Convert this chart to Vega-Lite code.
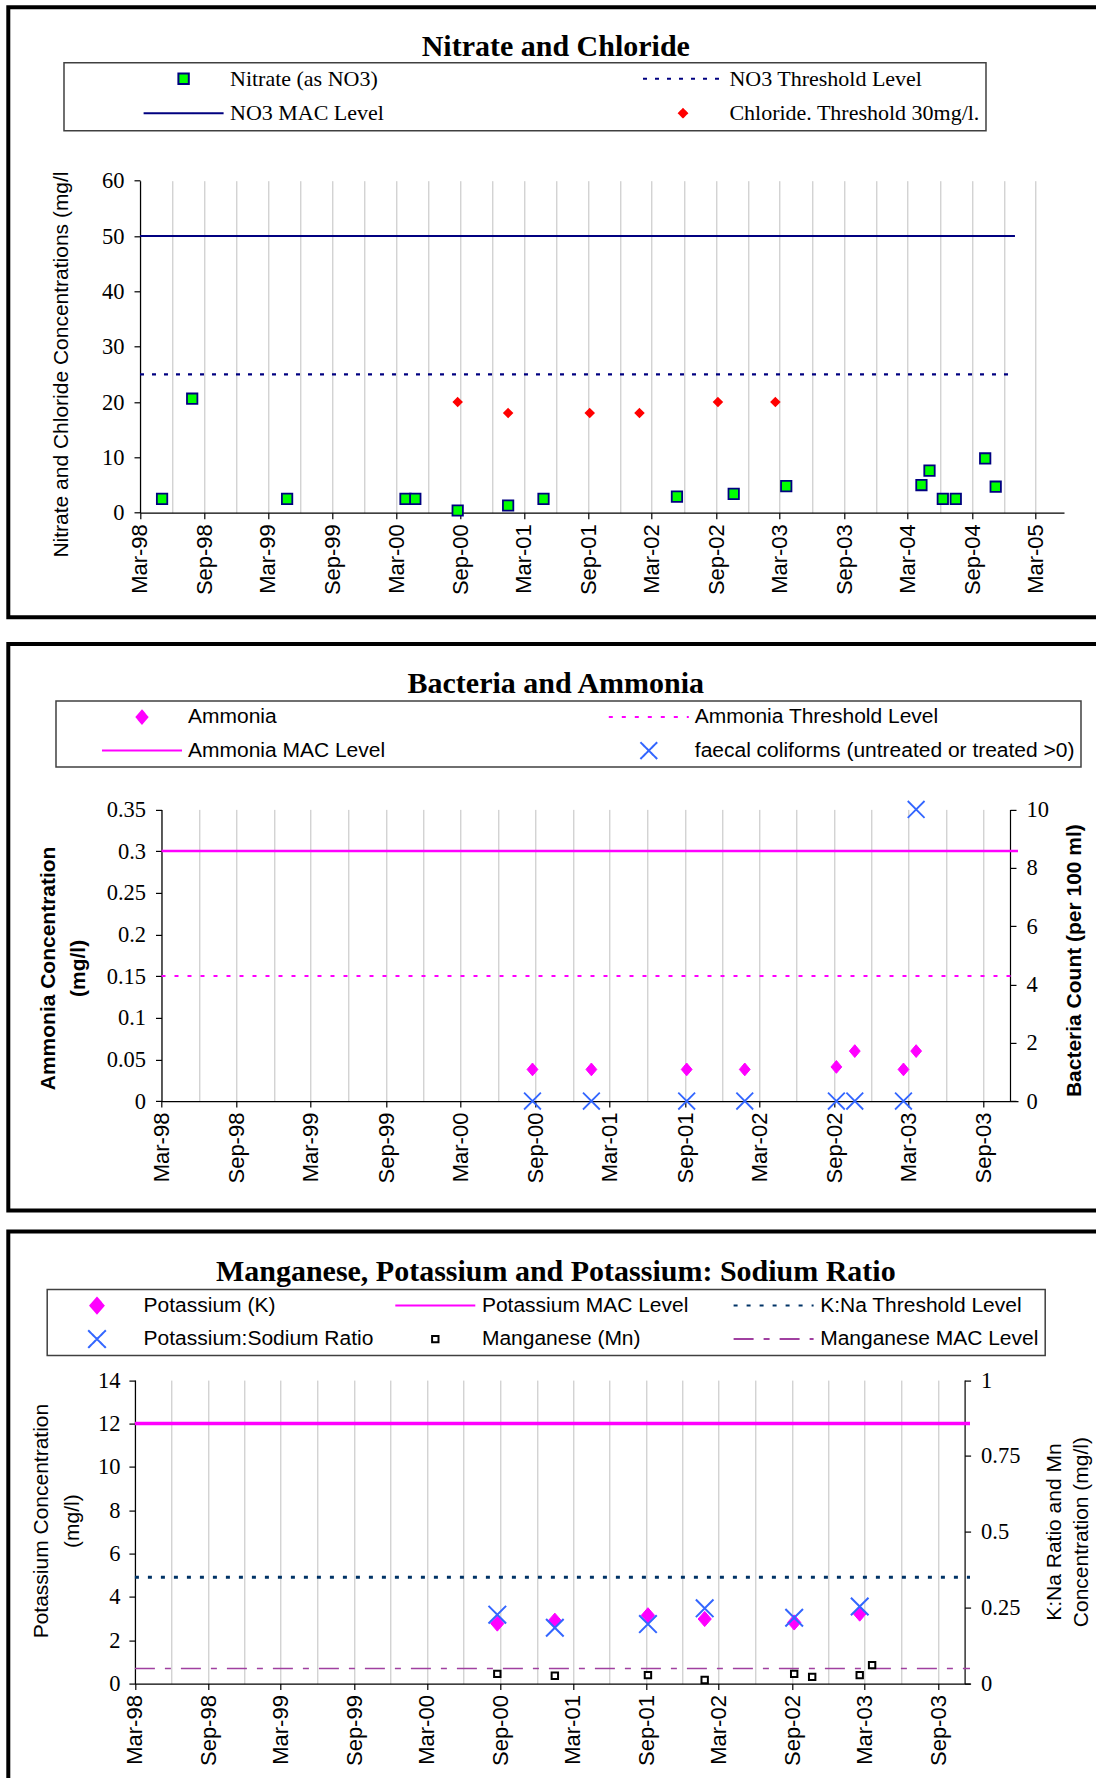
{
  "$schema": "https://vega.github.io/schema/vega-lite/v6.json",
  "background": "white",
  "padding": {"left": 6.3, "top": 5.3, "right": 0, "bottom": 0},
  "spacing": 22.6,
  "resolve": {"scale": {"stroke": "independent", "fill": "independent", "shape": "independent", "strokeDash": "independent"}},
  "datasets": {
    "p1pts": [
      {"series": "Nitrate (as NO3)", "date": "1998-05-03", "value": 2.5},
      {"series": "Nitrate (as NO3)", "date": "1998-07-28", "value": 20.6},
      {"series": "Nitrate (as NO3)", "date": "1999-04-25", "value": 2.5},
      {"series": "Nitrate (as NO3)", "date": "2000-03-28", "value": 2.5},
      {"series": "Nitrate (as NO3)", "date": "2000-04-25", "value": 2.5},
      {"series": "Nitrate (as NO3)", "date": "2000-08-24", "value": 0.4},
      {"series": "Nitrate (as NO3)", "date": "2001-01-15", "value": 1.3},
      {"series": "Nitrate (as NO3)", "date": "2001-04-26", "value": 2.5},
      {"series": "Nitrate (as NO3)", "date": "2002-05-12", "value": 2.9},
      {"series": "Nitrate (as NO3)", "date": "2002-10-21", "value": 3.4},
      {"series": "Nitrate (as NO3)", "date": "2003-03-20", "value": 4.8},
      {"series": "Nitrate (as NO3)", "date": "2004-04-09", "value": 5.0},
      {"series": "Nitrate (as NO3)", "date": "2004-05-02", "value": 7.6},
      {"series": "Nitrate (as NO3)", "date": "2004-06-09", "value": 2.5},
      {"series": "Nitrate (as NO3)", "date": "2004-07-16", "value": 2.5},
      {"series": "Nitrate (as NO3)", "date": "2004-10-08", "value": 9.8},
      {"series": "Nitrate (as NO3)", "date": "2004-11-07", "value": 4.7},
      {"series": "Chloride. Threshold 30mg/l.", "date": "2000-08-24", "value": 20},
      {"series": "Chloride. Threshold 30mg/l.", "date": "2001-01-15", "value": 18},
      {"series": "Chloride. Threshold 30mg/l.", "date": "2001-09-05", "value": 18},
      {"series": "Chloride. Threshold 30mg/l.", "date": "2002-01-25", "value": 18},
      {"series": "Chloride. Threshold 30mg/l.", "date": "2002-09-06", "value": 20},
      {"series": "Chloride. Threshold 30mg/l.", "date": "2003-02-17", "value": 20}
    ],
    "p1lines": [
      {"series": "NO3 MAC Level", "start": "1998-03-01", "end": "2005-01-01", "value": 50},
      {"series": "NO3 Threshold Level", "start": "1998-03-01", "end": "2005-01-01", "value": 25}
    ],
    "p2pts": [
      {"series": "Ammonia", "date": "2000-08-24", "value": 0.038},
      {"series": "Ammonia", "date": "2001-01-15", "value": 0.038},
      {"series": "Ammonia", "date": "2001-09-05", "value": 0.038},
      {"series": "Ammonia", "date": "2002-01-25", "value": 0.038},
      {"series": "Ammonia", "date": "2002-09-06", "value": 0.041},
      {"series": "Ammonia", "date": "2002-10-21", "value": 0.06},
      {"series": "Ammonia", "date": "2003-02-17", "value": 0.038},
      {"series": "Ammonia", "date": "2003-03-20", "value": 0.06},
      {"series": "faecal coliforms (untreated or treated >0)", "date": "2000-08-24", "value": 0},
      {"series": "faecal coliforms (untreated or treated >0)", "date": "2001-01-15", "value": 0},
      {"series": "faecal coliforms (untreated or treated >0)", "date": "2001-09-05", "value": 0},
      {"series": "faecal coliforms (untreated or treated >0)", "date": "2002-01-25", "value": 0},
      {"series": "faecal coliforms (untreated or treated >0)", "date": "2002-09-06", "value": 0},
      {"series": "faecal coliforms (untreated or treated >0)", "date": "2002-10-21", "value": 0},
      {"series": "faecal coliforms (untreated or treated >0)", "date": "2003-02-17", "value": 0},
      {"series": "faecal coliforms (untreated or treated >0)", "date": "2003-03-20", "value": 10}
    ],
    "p2lines": [
      {"series": "Ammonia MAC Level", "start": "1998-03-01", "end": "2003-11-24", "value": 0.3},
      {"series": "Ammonia Threshold Level", "start": "1998-03-01", "end": "2003-11-24", "value": 0.15}
    ],
    "p3pts": [
      {"series": "Potassium (K)", "date": "2000-08-24", "value": 2.77},
      {"series": "Potassium (K)", "date": "2001-01-15", "value": 2.9},
      {"series": "Potassium (K)", "date": "2001-09-05", "value": 3.15},
      {"series": "Potassium (K)", "date": "2002-01-25", "value": 2.98},
      {"series": "Potassium (K)", "date": "2002-09-06", "value": 2.82},
      {"series": "Potassium (K)", "date": "2003-02-17", "value": 3.23},
      {"series": "Potassium:Sodium Ratio", "date": "2000-08-24", "value": 0.227},
      {"series": "Potassium:Sodium Ratio", "date": "2001-01-15", "value": 0.184},
      {"series": "Potassium:Sodium Ratio", "date": "2001-09-05", "value": 0.196},
      {"series": "Potassium:Sodium Ratio", "date": "2002-01-25", "value": 0.248},
      {"series": "Potassium:Sodium Ratio", "date": "2002-09-06", "value": 0.217},
      {"series": "Potassium:Sodium Ratio", "date": "2003-02-17", "value": 0.254},
      {"series": "Manganese (Mn)", "date": "2000-08-24", "value": 0.032},
      {"series": "Manganese (Mn)", "date": "2001-01-15", "value": 0.026},
      {"series": "Manganese (Mn)", "date": "2001-09-05", "value": 0.028},
      {"series": "Manganese (Mn)", "date": "2002-01-25", "value": 0.012},
      {"series": "Manganese (Mn)", "date": "2002-09-06", "value": 0.032},
      {"series": "Manganese (Mn)", "date": "2002-10-21", "value": 0.022},
      {"series": "Manganese (Mn)", "date": "2003-02-17", "value": 0.028},
      {"series": "Manganese (Mn)", "date": "2003-03-20", "value": 0.061}
    ],
    "p3lines": [
      {"series": "Potassium MAC Level", "start": "1998-03-01", "end": "2003-11-20", "value": 12},
      {"series": "K:Na Threshold Level", "start": "1998-03-01", "end": "2003-11-20", "value": 0.35},
      {"series": "Manganese MAC Level", "start": "1998-03-01", "end": "2003-11-20", "value": 0.05}
    ]
  },
  "vconcat": [
    {
      "width": 1095,
      "height": 610,
      "title": {"text": "Nitrate and Chloride", "offset": -55},
      "layer": [
        {
          "data": {"name": "p1lines"},
          "transform": [{"filter": {"field": "series", "equal": "NO3 MAC Level"}}],
          "mark": {"type": "rule", "strokeWidth": 2},
          "encoding": {
            "x": {"field": "start", "type": "temporal",
              "scale": {"type": "utc", "domain": [{"year": 1998, "month": 3, "date": 1, "utc": true}, {"year": 2005, "month": 5, "date": 21, "utc": true}], "range": [131.7, 1055.7], "nice": false},
              "axis": {"orient": "top", "offset": 0, "grid": true, "domain": false, "ticks": false, "labels": false, "title": null,
                "values": [
                  {"year": 1998, "month": 3, "date": 1, "utc": true}, {"year": 1998, "month": 6, "date": 1, "utc": true}, {"year": 1998, "month": 9, "date": 1, "utc": true}, {"year": 1998, "month": 12, "date": 1, "utc": true},
                  {"year": 1999, "month": 3, "date": 1, "utc": true}, {"year": 1999, "month": 6, "date": 1, "utc": true}, {"year": 1999, "month": 9, "date": 1, "utc": true}, {"year": 1999, "month": 12, "date": 1, "utc": true},
                  {"year": 2000, "month": 3, "date": 1, "utc": true}, {"year": 2000, "month": 6, "date": 1, "utc": true}, {"year": 2000, "month": 9, "date": 1, "utc": true}, {"year": 2000, "month": 12, "date": 1, "utc": true},
                  {"year": 2001, "month": 3, "date": 1, "utc": true}, {"year": 2001, "month": 6, "date": 1, "utc": true}, {"year": 2001, "month": 9, "date": 1, "utc": true}, {"year": 2001, "month": 12, "date": 1, "utc": true},
                  {"year": 2002, "month": 3, "date": 1, "utc": true}, {"year": 2002, "month": 6, "date": 1, "utc": true}, {"year": 2002, "month": 9, "date": 1, "utc": true}, {"year": 2002, "month": 12, "date": 1, "utc": true},
                  {"year": 2003, "month": 3, "date": 1, "utc": true}, {"year": 2003, "month": 6, "date": 1, "utc": true}, {"year": 2003, "month": 9, "date": 1, "utc": true}, {"year": 2003, "month": 12, "date": 1, "utc": true},
                  {"year": 2004, "month": 3, "date": 1, "utc": true}, {"year": 2004, "month": 6, "date": 1, "utc": true}, {"year": 2004, "month": 9, "date": 1, "utc": true}, {"year": 2004, "month": 12, "date": 1, "utc": true},
                  {"year": 2005, "month": 3, "date": 1, "utc": true}
                ]}},
            "x2": {"field": "end"},
            "y": {"field": "value", "type": "quantitative",
              "scale": {"domain": [0, 60], "range": [505.4, 173.4], "nice": false, "zero": false},
              "axis": {"orient": "left", "offset": -131.7, "values": [0, 10, 20, 30, 40, 50, 60], "grid": false, "labelPadding": 10, "labelFont": "Liberation Serif", "labelFontSize": 22.5,
                "title": "Nitrate and Chloride Concentrations (mg/l", "titleAngle": 270, "titleX": -78.3, "titleY": 356.7, "titleAlign": "center", "titleBaseline": "middle"}},
            "stroke": {"field": "series", "type": "nominal",
              "scale": {"domain": ["Nitrate (as NO3)", "NO3 MAC Level", "NO3 Threshold Level", "Chloride. Threshold 30mg/l."], "range": ["#000080", "#000080", "#000080", "#ff0000"]},
              "legend": {"title": null, "legendX": 55.7, "legendY": 55.4, "columns": 2, "columnPadding": 185.4, "symbolOffset": 72.6, "labelOffset": 5.4, "labelFont": "Liberation Serif", "labelFontSize": 22}},
            "strokeDash": {"field": "series", "type": "nominal",
              "scale": {"domain": ["Nitrate (as NO3)", "NO3 MAC Level", "NO3 Threshold Level", "Chloride. Threshold 30mg/l."], "range": [[1, 0], [1, 0], [4, 8], [1, 0]]}}
          }
        },
        {
          "data": {"name": "p1lines"},
          "transform": [{"filter": {"field": "series", "equal": "NO3 Threshold Level"}}],
          "mark": {"type": "rule", "strokeWidth": 2.2},
          "encoding": {
            "x": {"field": "start", "type": "temporal", "axis": null},
            "x2": {"field": "end"},
            "y": {"field": "value", "type": "quantitative"},
            "stroke": {"field": "series", "type": "nominal",
              "scale": {"domain": ["Nitrate (as NO3)", "NO3 MAC Level", "NO3 Threshold Level", "Chloride. Threshold 30mg/l."], "range": ["#000080", "#000080", "#000080", "#ff0000"]}},
            "strokeDash": {"field": "series", "type": "nominal",
              "scale": {"domain": ["Nitrate (as NO3)", "NO3 MAC Level", "NO3 Threshold Level", "Chloride. Threshold 30mg/l."], "range": [[1, 0], [1, 0], [4, 8], [1, 0]]}}
          }
        },
        {
          "data": {"name": "p1pts"},
          "mark": {"type": "point", "filled": true, "opacity": 1, "size": 6400, "strokeWidth": 1.8},
          "encoding": {
            "x": {"field": "date", "type": "temporal",
              "axis": {"orient": "bottom", "offset": -104.6, "grid": false, "title": null, "format": "%b-%y", "labelAngle": 270, "labelFont": "Liberation Sans", "labelFontSize": 22, "labelPadding": 5,
                "values": [
                  {"year": 1998, "month": 3, "date": 1, "utc": true}, {"year": 1998, "month": 9, "date": 1, "utc": true},
                  {"year": 1999, "month": 3, "date": 1, "utc": true}, {"year": 1999, "month": 9, "date": 1, "utc": true},
                  {"year": 2000, "month": 3, "date": 1, "utc": true}, {"year": 2000, "month": 9, "date": 1, "utc": true},
                  {"year": 2001, "month": 3, "date": 1, "utc": true}, {"year": 2001, "month": 9, "date": 1, "utc": true},
                  {"year": 2002, "month": 3, "date": 1, "utc": true}, {"year": 2002, "month": 9, "date": 1, "utc": true},
                  {"year": 2003, "month": 3, "date": 1, "utc": true}, {"year": 2003, "month": 9, "date": 1, "utc": true},
                  {"year": 2004, "month": 3, "date": 1, "utc": true}, {"year": 2004, "month": 9, "date": 1, "utc": true},
                  {"year": 2005, "month": 3, "date": 1, "utc": true}
                ]}},
            "y": {"field": "value", "type": "quantitative"},
            "fill": {"field": "series", "type": "nominal",
              "scale": {"domain": ["Nitrate (as NO3)", "NO3 MAC Level", "NO3 Threshold Level", "Chloride. Threshold 30mg/l."], "range": ["#00ff00", "transparent", "transparent", "#ff0000"]}},
            "stroke": {"field": "series", "type": "nominal",
              "scale": {"domain": ["Nitrate (as NO3)", "NO3 MAC Level", "NO3 Threshold Level", "Chloride. Threshold 30mg/l."], "range": ["#000080", "#000080", "#000080", "#ff0000"]}},
            "shape": {"field": "series", "type": "nominal",
              "scale": {"domain": ["Nitrate (as NO3)", "NO3 MAC Level", "NO3 Threshold Level", "Chloride. Threshold 30mg/l."],
                "range": ["M-0.13,-0.13L0.13,-0.13L0.13,0.13L-0.13,0.13Z", "M-1,0L1,0", "M-1,0L1,0", "M0,-0.1L0.1,0L0,0.1L-0.1,0Z"]}}
          }
        }
      ],
      "resolve": {"axis": {"x": "independent"}}
    },
    {
      "spacing": 16.7,
      "resolve": {"scale": {"stroke": "independent", "fill": "independent", "shape": "independent", "strokeDash": "independent"}},
      "vconcat": [
        {
          "width": 1095,
          "height": 566.5,
          "title": {"text": "Bacteria and Ammonia", "offset": -55},
          "layer": [
            {
              "layer": [
                {
                  "data": {"name": "p2lines"},
                  "transform": [{"filter": {"field": "series", "equal": "Ammonia MAC Level"}}],
                  "mark": {"type": "rule", "strokeWidth": 2.5},
                  "encoding": {
                    "x": {"field": "start", "type": "temporal",
                      "scale": {"type": "utc", "domain": [{"year": 1998, "month": 3, "date": 1, "utc": true}, {"year": 2003, "month": 11, "date": 24, "utc": true}], "range": [153.2, 1009.7], "nice": false},
                      "axis": {"orient": "top", "offset": 0, "grid": true, "domain": false, "ticks": false, "labels": false, "title": null,
                        "values": [
                          {"year": 1998, "month": 3, "date": 1, "utc": true}, {"year": 1998, "month": 6, "date": 1, "utc": true}, {"year": 1998, "month": 9, "date": 1, "utc": true}, {"year": 1998, "month": 12, "date": 1, "utc": true},
                          {"year": 1999, "month": 3, "date": 1, "utc": true}, {"year": 1999, "month": 6, "date": 1, "utc": true}, {"year": 1999, "month": 9, "date": 1, "utc": true}, {"year": 1999, "month": 12, "date": 1, "utc": true},
                          {"year": 2000, "month": 3, "date": 1, "utc": true}, {"year": 2000, "month": 6, "date": 1, "utc": true}, {"year": 2000, "month": 9, "date": 1, "utc": true}, {"year": 2000, "month": 12, "date": 1, "utc": true},
                          {"year": 2001, "month": 3, "date": 1, "utc": true}, {"year": 2001, "month": 6, "date": 1, "utc": true}, {"year": 2001, "month": 9, "date": 1, "utc": true}, {"year": 2001, "month": 12, "date": 1, "utc": true},
                          {"year": 2002, "month": 3, "date": 1, "utc": true}, {"year": 2002, "month": 6, "date": 1, "utc": true}, {"year": 2002, "month": 9, "date": 1, "utc": true}, {"year": 2002, "month": 12, "date": 1, "utc": true},
                          {"year": 2003, "month": 3, "date": 1, "utc": true}, {"year": 2003, "month": 6, "date": 1, "utc": true}, {"year": 2003, "month": 9, "date": 1, "utc": true}
                        ]}},
                    "x2": {"field": "end"},
                    "y": {"field": "value", "type": "quantitative",
                      "scale": {"domain": [0, 0.35], "range": [457.2, 165.5], "nice": false, "zero": false},
                      "axis": {"orient": "left", "offset": -153.2, "values": [0, 0.05, 0.1, 0.15, 0.2, 0.25, 0.3, 0.35], "format": ".2~g", "grid": false, "labelPadding": 10, "labelFont": "Liberation Serif", "labelFontSize": 22.5,
                        "title": ["Ammonia Concentration", "(mg/l)"], "titleFontWeight": "bold", "titleLineHeight": 30, "titleAngle": 270, "titleX": -112.5, "titleY": 324, "titleAlign": "center", "titleBaseline": "middle"}},
                    "stroke": {"field": "series", "type": "nominal",
                      "scale": {"domain": ["Ammonia", "Ammonia MAC Level", "Ammonia Threshold Level", "faecal coliforms (untreated or treated >0)"], "range": ["#ff00ff", "#ff00ff", "#ff00ff", "#3366ff"]},
                      "legend": {"title": null, "legendX": 47.7, "legendY": 57.2, "columns": 2, "columnPadding": 182.8, "symbolOffset": 39, "labelOffset": 5, "labelFont": "Liberation Sans", "labelFontSize": 21}},
                    "strokeDash": {"field": "series", "type": "nominal",
                      "scale": {"domain": ["Ammonia", "Ammonia MAC Level", "Ammonia Threshold Level", "faecal coliforms (untreated or treated >0)"], "range": [[1, 0], [1, 0], [4, 9], [1, 0]]}}
                  }
                },
                {
                  "data": {"name": "p2lines"},
                  "transform": [{"filter": {"field": "series", "equal": "Ammonia Threshold Level"}}],
                  "mark": {"type": "rule", "strokeWidth": 2},
                  "encoding": {
                    "x": {"field": "start", "type": "temporal"},
                    "x2": {"field": "end"},
                    "y": {"field": "value", "type": "quantitative"},
                    "stroke": {"field": "series", "type": "nominal",
                      "scale": {"domain": ["Ammonia", "Ammonia MAC Level", "Ammonia Threshold Level", "faecal coliforms (untreated or treated >0)"], "range": ["#ff00ff", "#ff00ff", "#ff00ff", "#3366ff"]}},
                    "strokeDash": {"field": "series", "type": "nominal",
                      "scale": {"domain": ["Ammonia", "Ammonia MAC Level", "Ammonia Threshold Level", "faecal coliforms (untreated or treated >0)"], "range": [[1, 0], [1, 0], [4, 9], [1, 0]]}}
                  }
                },
                {
                  "data": {"name": "p2pts"},
                  "transform": [{"filter": {"field": "series", "equal": "Ammonia"}}],
                  "mark": {"type": "point", "filled": true, "opacity": 1, "size": 6400, "strokeWidth": 1},
                  "encoding": {
                    "x": {"field": "date", "type": "temporal"},
                    "y": {"field": "value", "type": "quantitative"},
                    "fill": {"field": "series", "type": "nominal",
                      "scale": {"domain": ["Ammonia", "Ammonia MAC Level", "Ammonia Threshold Level", "faecal coliforms (untreated or treated >0)"], "range": ["#ff00ff", "transparent", "transparent", "transparent"]}},
                    "stroke": {"field": "series", "type": "nominal",
                      "scale": {"domain": ["Ammonia", "Ammonia MAC Level", "Ammonia Threshold Level", "faecal coliforms (untreated or treated >0)"], "range": ["#ff00ff", "#ff00ff", "#ff00ff", "#3366ff"]}},
                    "shape": {"field": "series", "type": "nominal",
                      "scale": {"domain": ["Ammonia", "Ammonia MAC Level", "Ammonia Threshold Level", "faecal coliforms (untreated or treated >0)"],
                        "range": ["M0,-0.16L0.135,0L0,0.16L-0.135,0Z", "M-1,0L1,0", "M-1,0L1,0", "M-0.21,-0.21L0.21,0.21M-0.21,0.21L0.21,-0.21"]}}
                  }
                }
              ]
            },
            {
              "data": {"name": "p2pts"},
              "transform": [{"filter": {"field": "series", "equal": "faecal coliforms (untreated or treated >0)"}}],
              "mark": {"type": "point", "filled": true, "opacity": 1, "size": 6400, "strokeWidth": 1.8},
              "encoding": {
                "x": {"field": "date", "type": "temporal",
                  "scale": {"type": "utc", "domain": [{"year": 1998, "month": 3, "date": 1, "utc": true}, {"year": 2003, "month": 11, "date": 24, "utc": true}], "range": [153.2, 1009.7], "nice": false},
                  "axis": {"orient": "bottom", "offset": -109.3, "grid": false, "title": null, "format": "%b-%y", "labelAngle": 270, "labelFont": "Liberation Sans", "labelFontSize": 22, "labelPadding": 5,
                    "values": [
                      {"year": 1998, "month": 3, "date": 1, "utc": true}, {"year": 1998, "month": 9, "date": 1, "utc": true},
                      {"year": 1999, "month": 3, "date": 1, "utc": true}, {"year": 1999, "month": 9, "date": 1, "utc": true},
                      {"year": 2000, "month": 3, "date": 1, "utc": true}, {"year": 2000, "month": 9, "date": 1, "utc": true},
                      {"year": 2001, "month": 3, "date": 1, "utc": true}, {"year": 2001, "month": 9, "date": 1, "utc": true},
                      {"year": 2002, "month": 3, "date": 1, "utc": true}, {"year": 2002, "month": 9, "date": 1, "utc": true},
                      {"year": 2003, "month": 3, "date": 1, "utc": true}, {"year": 2003, "month": 9, "date": 1, "utc": true}
                    ]}},
                "y": {"field": "value", "type": "quantitative",
                  "scale": {"domain": [0, 10], "range": [457.2, 165.5], "nice": false, "zero": false},
                  "axis": {"orient": "right", "offset": -93.3, "values": [0, 2, 4, 6, 8, 10], "grid": false, "labelPadding": 10, "labelFont": "Liberation Serif", "labelFontSize": 22.5,
                    "title": "Bacteria Count (per 100 ml)", "titleFontWeight": "bold", "titleAngle": 270, "titleX": 65, "titleY": 316.2, "titleAlign": "center", "titleBaseline": "middle"}},
                "fill": {"field": "series", "type": "nominal",
                  "scale": {"domain": ["Ammonia", "Ammonia MAC Level", "Ammonia Threshold Level", "faecal coliforms (untreated or treated >0)"], "range": ["#ff00ff", "transparent", "transparent", "transparent"]}},
                "stroke": {"field": "series", "type": "nominal",
                  "scale": {"domain": ["Ammonia", "Ammonia MAC Level", "Ammonia Threshold Level", "faecal coliforms (untreated or treated >0)"], "range": ["#ff00ff", "#ff00ff", "#ff00ff", "#3366ff"]}},
                "shape": {"field": "series", "type": "nominal",
                  "scale": {"domain": ["Ammonia", "Ammonia MAC Level", "Ammonia Threshold Level", "faecal coliforms (untreated or treated >0)"],
                    "range": ["M0,-0.16L0.135,0L0,0.16L-0.135,0Z", "M-1,0L1,0", "M-1,0L1,0", "M-0.21,-0.21L0.21,0.21M-0.21,0.21L0.21,-0.21"]}}
              }
            }
          ],
          "resolve": {"scale": {"y": "independent"}, "axis": {"x": "independent", "y": "independent"}}
        },
        {
          "width": 1095,
          "height": 560,
          "title": {"text": "Manganese, Potassium and Potassium: Sodium Ratio", "offset": -55},
          "layer": [
            {
              "layer": [
                {
                  "data": {"name": "p3lines"},
                  "transform": [{"filter": {"field": "series", "equal": "Potassium MAC Level"}}],
                  "mark": {"type": "rule", "strokeWidth": 3.5},
                  "encoding": {
                    "x": {"field": "start", "type": "temporal",
                      "scale": {"type": "utc", "domain": [{"year": 1998, "month": 3, "date": 1, "utc": true}, {"year": 2003, "month": 11, "date": 20, "utc": true}], "range": [126.6, 961.7], "nice": false},
                      "axis": {"orient": "top", "offset": 0, "grid": true, "domain": false, "ticks": false, "labels": false, "title": null,
                        "values": [
                          {"year": 1998, "month": 3, "date": 1, "utc": true}, {"year": 1998, "month": 6, "date": 1, "utc": true}, {"year": 1998, "month": 9, "date": 1, "utc": true}, {"year": 1998, "month": 12, "date": 1, "utc": true},
                          {"year": 1999, "month": 3, "date": 1, "utc": true}, {"year": 1999, "month": 6, "date": 1, "utc": true}, {"year": 1999, "month": 9, "date": 1, "utc": true}, {"year": 1999, "month": 12, "date": 1, "utc": true},
                          {"year": 2000, "month": 3, "date": 1, "utc": true}, {"year": 2000, "month": 6, "date": 1, "utc": true}, {"year": 2000, "month": 9, "date": 1, "utc": true}, {"year": 2000, "month": 12, "date": 1, "utc": true},
                          {"year": 2001, "month": 3, "date": 1, "utc": true}, {"year": 2001, "month": 6, "date": 1, "utc": true}, {"year": 2001, "month": 9, "date": 1, "utc": true}, {"year": 2001, "month": 12, "date": 1, "utc": true},
                          {"year": 2002, "month": 3, "date": 1, "utc": true}, {"year": 2002, "month": 6, "date": 1, "utc": true}, {"year": 2002, "month": 9, "date": 1, "utc": true}, {"year": 2002, "month": 12, "date": 1, "utc": true},
                          {"year": 2003, "month": 3, "date": 1, "utc": true}, {"year": 2003, "month": 6, "date": 1, "utc": true}, {"year": 2003, "month": 9, "date": 1, "utc": true}
                        ]}},
                    "x2": {"field": "end"},
                    "y": {"field": "value", "type": "quantitative",
                      "scale": {"domain": [0, 14], "range": [452, 148.5], "nice": false, "zero": false},
                      "axis": {"orient": "left", "offset": -126.6, "values": [0, 2, 4, 6, 8, 10, 12, 14], "grid": false, "labelPadding": 9, "labelFont": "Liberation Serif", "labelFontSize": 22.5,
                        "title": ["Potassium Concentration", "(mg/l)"], "titleLineHeight": 31, "titleAngle": 270, "titleX": -92.9, "titleY": 289, "titleAlign": "center", "titleBaseline": "middle"}},
                    "stroke": {"field": "series", "type": "nominal",
                      "scale": {"domain": ["Potassium (K)", "Potassium:Sodium Ratio", "Potassium MAC Level", "Manganese (Mn)", "K:Na Threshold Level", "Manganese MAC Level"], "range": ["#ff00ff", "#3366ff", "#ff00ff", "#000000", "#003366", "#a040a0"]},
                      "legend": {"title": null, "legendX": 38.9, "legendY": 58, "columns": 3, "columnPadding": 17.3, "gridAlign": "all", "symbolOffset": 2.8, "labelOffset": 5.6, "labelFont": "Liberation Sans", "labelFontSize": 21}},
                    "strokeDash": {"field": "series", "type": "nominal",
                      "scale": {"domain": ["Potassium (K)", "Potassium:Sodium Ratio", "Potassium MAC Level", "Manganese (Mn)", "K:Na Threshold Level", "Manganese MAC Level"], "range": [[1, 0], [1, 0], [1, 0], [1, 0], [4, 9], [20, 10, 6, 10]]}}
                  }
                },
                {
                  "data": {"name": "p3pts"},
                  "transform": [{"filter": {"field": "series", "equal": "Potassium (K)"}}],
                  "mark": {"type": "point", "filled": true, "opacity": 1, "size": 6400, "strokeWidth": 1},
                  "encoding": {
                    "x": {"field": "date", "type": "temporal"},
                    "y": {"field": "value", "type": "quantitative"},
                    "fill": {"field": "series", "type": "nominal",
                      "scale": {"domain": ["Potassium (K)", "Potassium:Sodium Ratio", "Potassium MAC Level", "Manganese (Mn)", "K:Na Threshold Level", "Manganese MAC Level"], "range": ["#ff00ff", "transparent", "transparent", "#ffffff", "transparent", "transparent"]}},
                    "stroke": {"field": "series", "type": "nominal",
                      "scale": {"domain": ["Potassium (K)", "Potassium:Sodium Ratio", "Potassium MAC Level", "Manganese (Mn)", "K:Na Threshold Level", "Manganese MAC Level"], "range": ["#ff00ff", "#3366ff", "#ff00ff", "#000000", "#003366", "#a040a0"]}},
                    "shape": {"field": "series", "type": "nominal",
                      "scale": {"domain": ["Potassium (K)", "Potassium:Sodium Ratio", "Potassium MAC Level", "Manganese (Mn)", "K:Na Threshold Level", "Manganese MAC Level"],
                        "range": ["M0,-0.19L0.165,0L0,0.19L-0.165,0Z", "M-0.22,-0.22L0.22,0.22M-0.22,0.22L0.22,-0.22", "M-1,0L1,0", "M-0.08,-0.08L0.08,-0.08L0.08,0.08L-0.08,0.08Z", "M-1,0L1,0", "M-1,0L1,0"]}}
                  }
                }
              ]
            },
            {
              "data": {"name": "p3lines"},
              "transform": [{"filter": {"field": "series", "equal": "K:Na Threshold Level"}}],
              "mark": {"type": "rule", "strokeWidth": 3},
              "encoding": {
                "x": {"field": "start", "type": "temporal",
                  "scale": {"type": "utc", "domain": [{"year": 1998, "month": 3, "date": 1, "utc": true}, {"year": 2003, "month": 11, "date": 20, "utc": true}], "range": [126.6, 961.7], "nice": false},
                  "axis": {"orient": "bottom", "offset": -108, "grid": false, "title": null, "format": "%b-%y", "labelAngle": 270, "labelFont": "Liberation Sans", "labelFontSize": 22, "labelPadding": 5,
                    "values": [
                      {"year": 1998, "month": 3, "date": 1, "utc": true}, {"year": 1998, "month": 9, "date": 1, "utc": true},
                      {"year": 1999, "month": 3, "date": 1, "utc": true}, {"year": 1999, "month": 9, "date": 1, "utc": true},
                      {"year": 2000, "month": 3, "date": 1, "utc": true}, {"year": 2000, "month": 9, "date": 1, "utc": true},
                      {"year": 2001, "month": 3, "date": 1, "utc": true}, {"year": 2001, "month": 9, "date": 1, "utc": true},
                      {"year": 2002, "month": 3, "date": 1, "utc": true}, {"year": 2002, "month": 9, "date": 1, "utc": true},
                      {"year": 2003, "month": 3, "date": 1, "utc": true}, {"year": 2003, "month": 9, "date": 1, "utc": true}
                    ]}},
                "x2": {"field": "end"},
                "y": {"field": "value", "type": "quantitative",
                  "scale": {"domain": [0, 1], "range": [452, 148.5], "nice": false, "zero": false},
                  "axis": {"orient": "right", "offset": -138.7, "values": [0, 0.25, 0.5, 0.75, 1], "format": ".2~g", "grid": false, "labelPadding": 10, "labelFont": "Liberation Serif", "labelFontSize": 22.5,
                    "title": ["K:Na Ratio and Mn", "Concentration (mg/l)"], "titleLineHeight": 27, "titleAngle": 270, "titleX": 90.4, "titleY": 300, "titleAlign": "center", "titleBaseline": "middle"}},
                "stroke": {"field": "series", "type": "nominal",
                  "scale": {"domain": ["Potassium (K)", "Potassium:Sodium Ratio", "Potassium MAC Level", "Manganese (Mn)", "K:Na Threshold Level", "Manganese MAC Level"], "range": ["#ff00ff", "#3366ff", "#ff00ff", "#000000", "#003366", "#a040a0"]}},
                "strokeDash": {"field": "series", "type": "nominal",
                  "scale": {"domain": ["Potassium (K)", "Potassium:Sodium Ratio", "Potassium MAC Level", "Manganese (Mn)", "K:Na Threshold Level", "Manganese MAC Level"], "range": [[1, 0], [1, 0], [1, 0], [1, 0], [4, 9], [20, 10, 6, 10]]}}
              }
            },
            {
              "layer": [
                {
                  "data": {"name": "p3lines"},
                  "transform": [{"filter": {"field": "series", "equal": "Manganese MAC Level"}}],
                  "mark": {"type": "rule", "strokeWidth": 1.5},
                  "encoding": {
                    "x": {"field": "start", "type": "temporal", "axis": null},
                    "x2": {"field": "end"},
                    "y": {"field": "value", "type": "quantitative", "scale": {"domain": [0, 1], "range": [452, 148.5], "nice": false, "zero": false}, "axis": null},
                    "stroke": {"field": "series", "type": "nominal",
                      "scale": {"domain": ["Potassium (K)", "Potassium:Sodium Ratio", "Potassium MAC Level", "Manganese (Mn)", "K:Na Threshold Level", "Manganese MAC Level"], "range": ["#ff00ff", "#3366ff", "#ff00ff", "#000000", "#003366", "#a040a0"]}},
                    "strokeDash": {"field": "series", "type": "nominal",
                      "scale": {"domain": ["Potassium (K)", "Potassium:Sodium Ratio", "Potassium MAC Level", "Manganese (Mn)", "K:Na Threshold Level", "Manganese MAC Level"], "range": [[1, 0], [1, 0], [1, 0], [1, 0], [4, 9], [20, 10, 6, 10]]}}
                  }
                },
                {
                  "data": {"name": "p3pts"},
                  "transform": [{"filter": {"field": "series", "oneOf": ["Potassium:Sodium Ratio", "Manganese (Mn)"]}}],
                  "mark": {"type": "point", "filled": true, "opacity": 1, "size": 6400, "strokeWidth": 2},
                  "encoding": {
                    "x": {"field": "date", "type": "temporal", "axis": null},
                    "y": {"field": "value", "type": "quantitative", "axis": null},
                    "fill": {"field": "series", "type": "nominal",
                      "scale": {"domain": ["Potassium (K)", "Potassium:Sodium Ratio", "Potassium MAC Level", "Manganese (Mn)", "K:Na Threshold Level", "Manganese MAC Level"], "range": ["#ff00ff", "transparent", "transparent", "#ffffff", "transparent", "transparent"]}},
                    "stroke": {"field": "series", "type": "nominal",
                      "scale": {"domain": ["Potassium (K)", "Potassium:Sodium Ratio", "Potassium MAC Level", "Manganese (Mn)", "K:Na Threshold Level", "Manganese MAC Level"], "range": ["#ff00ff", "#3366ff", "#ff00ff", "#000000", "#003366", "#a040a0"]}},
                    "shape": {"field": "series", "type": "nominal",
                      "scale": {"domain": ["Potassium (K)", "Potassium:Sodium Ratio", "Potassium MAC Level", "Manganese (Mn)", "K:Na Threshold Level", "Manganese MAC Level"],
                        "range": ["M0,-0.19L0.165,0L0,0.19L-0.165,0Z", "M-0.22,-0.22L0.22,0.22M-0.22,0.22L0.22,-0.22", "M-1,0L1,0", "M-0.08,-0.08L0.08,-0.08L0.08,0.08L-0.08,0.08Z", "M-1,0L1,0", "M-1,0L1,0"]}}
                  }
                }
              ]
            }
          ],
          "resolve": {"scale": {"y": "independent"}, "axis": {"x": "independent", "y": "independent"}}
        }
      ]
    }
  ],
  "config": {
    "view": {"stroke": "black", "strokeWidth": 4, "fill": "white"},
    "title": {"font": "Liberation Serif", "fontSize": 30, "fontWeight": "bold", "color": "black", "anchor": "middle", "frame": "group", "baseline": "alphabetic"},
    "axis": {
      "domainColor": "black", "domainWidth": 1.2, "tickColor": "black", "tickWidth": 1.2, "tickSize": 6,
      "labelColor": "black", "labelFont": "Liberation Serif", "labelFontSize": 22.5, "labelFlush": false, "labelOverlap": false, "labelBound": false,
      "titleColor": "black", "titleFont": "Liberation Sans", "titleFontSize": 21, "titleFontWeight": "normal",
      "gridColor": "#c0c0c0", "gridWidth": 1, "gridOpacity": 1
    },
    "legend": {
      "orient": "none", "strokeColor": "#404040", "strokeWidth": 1.5, "fillColor": "white", "padding": 6,
      "clipHeight": 20, "rowPadding": 12.5, "symbolSize": 6400, "symbolStrokeWidth": 2,
      "labelColor": "black", "labelLimit": 600
    }
  }
}
